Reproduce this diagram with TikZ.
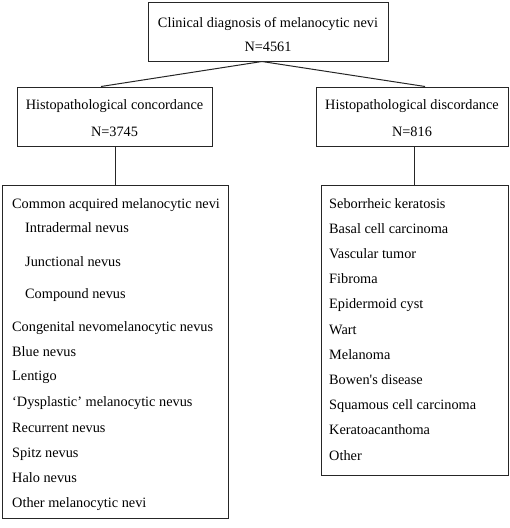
\documentclass[tikz,border=0pt]{standalone}
\usepackage{fontspec}
\setmainfont{Liberation Serif}
\usetikzlibrary{calc}
\begin{document}
\begin{tikzpicture}[x=1pt,y=-1pt,
  box/.style={draw=black!85, line width=1pt, inner sep=0pt},
  lbl/.style={font=\fontsize{14.3}{16}\selectfont, inner sep=0pt, anchor=base west},
  ctr/.style={font=\fontsize{14.3}{16}\selectfont, inner sep=0pt, anchor=base},
  conn/.style={line width=1pt, draw=black!85}]
\useasboundingbox (0,0) rectangle (510,528);
% boxes
\node[box, minimum width=240pt, minimum height=59pt] (top) at (268,31.5) {};
\node[box, minimum width=195pt, minimum height=59pt] (conc) at (114.5,116.5) {};
\node[box, minimum width=192pt, minimum height=59pt] (disc) at (412,116.5) {};
\node[box, minimum width=226pt, minimum height=333pt] (llist) at (115,351.5) {};
\node[box, minimum width=187pt, minimum height=290pt] (rlist) at (414.5,330) {};
% header texts
\node[ctr] (t1) at (268,27) {Clinical diagnosis of melanocytic nevi};
\node[ctr] (t2) at (268,51) {N=4561};
\node[ctr] (c1) at (114.5,109) {Histopathological concordance};
\node[ctr] (c2) at (114.5,136) {N=3745};
\node[ctr] (d1) at (412,109) {Histopathological discordance};
\node[ctr] (d2) at (412,136) {N=816};
% connectors
\draw[conn] ($(top.south)+(-6,0)$) -- ($(conc.north)+(-13.5,0)$);
\draw[conn] ($(top.south)+(-6,0)$) -- ($(disc.north)+(13,0)$);
\draw[conn] (llist.north |- conc.south) -- (llist.north);
\draw[conn] (rlist.north |- disc.south) -- (rlist.north);
% left list
\node[lbl] (l1) at (12,208) {Common acquired melanocytic nevi};
\node[lbl] (l2) at (25,232) {Intradermal nevus};
\node[lbl] (l3) at (25,266) {Junctional nevus};
\node[lbl] (l4) at (25,298) {Compound nevus};
\node[lbl] (l5) at (12,331) {Congenital nevomelanocytic nevus};
\node[lbl] (l6) at (12,356) {Blue nevus};
\node[lbl] (l7) at (12,380) {Lentigo};
\node[lbl] (l8) at (12,406) {‘Dysplastic’ melanocytic nevus};
\node[lbl] (l9) at (12,432) {Recurrent nevus};
\node[lbl] (l10) at (12,457) {Spitz nevus};
\node[lbl] (l11) at (12,482) {Halo nevus};
\node[lbl] (l12) at (12,507) {Other melanocytic nevi};
% right list
\node[lbl] (r1) at (329,208) {Seborrheic keratosis};
\node[lbl] (r2) at (329,233.2) {Basal cell carcinoma};
\node[lbl] (r3) at (329,258.4) {Vascular tumor};
\node[lbl] (r4) at (329,283.6) {Fibroma};
\node[lbl] (r5) at (329,308.8) {Epidermoid cyst};
\node[lbl] (r6) at (329,334) {Wart};
\node[lbl] (r7) at (329,359.2) {Melanoma};
\node[lbl] (r8) at (329,384.4) {Bowen\textquotesingle s disease};
\node[lbl] (r9) at (329,409.6) {Squamous cell carcinoma};
\node[lbl] (r10) at (329,434.8) {Keratoacanthoma};
\node[lbl] (r11) at (329,460) {Other};
\end{tikzpicture}
\end{document}
